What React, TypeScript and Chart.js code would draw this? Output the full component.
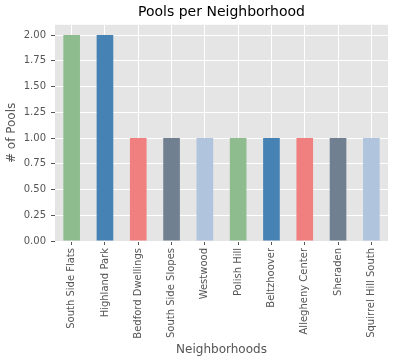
import React, { useEffect, useRef } from "react";
import { Chart, registerables } from "chart.js";

Chart.register(...registerables);

const neighborhoods = [
  "South Side Flats",
  "Highland Park",
  "Bedford Dwellings",
  "South Side Slopes",
  "Westwood",
  "Polish Hill",
  "Beltzhoover",
  "Allegheny Center",
  "Sheraden",
  "Squirrel Hill South",
];
const pools = [2, 2, 1, 1, 1, 1, 1, 1, 1, 1];
const palette = ["#8FBC8F", "#4682B4", "#F08080", "#708090", "#B0C4DE"];
const yTicks = [0, 0.25, 0.5, 0.75, 1.0, 1.25, 1.5, 1.75, 2.0];

const FONT = "'DejaVu Sans', sans-serif";

const bgPlugin = {
  id: "bgPlugin",
  beforeDraw(chart: any) {
    const { ctx, chartArea } = chart;
    ctx.save();
    ctx.fillStyle = "#E5E5E5";
    ctx.fillRect(chartArea.left, chartArea.top, chartArea.right - chartArea.left, chartArea.bottom - chartArea.top);
    ctx.restore();
  },
};

export default function App() {
  const ref = useRef<HTMLCanvasElement | null>(null);
  useEffect(() => {
    document.body.style.margin = "0";
    const chart = new Chart(ref.current!, {
      type: "bar",
      data: {
        labels: neighborhoods,
        datasets: [
          {
            data: pools,
            backgroundColor: neighborhoods.map((_, i) => palette[i % palette.length]),
            barPercentage: 0.5,
            categoryPercentage: 1,
          },
        ],
      },
      options: {
        animation: false,
        responsive: false,
        layout: { padding: { left: 0, right: 7, top: 0, bottom: 0 } },
        plugins: {
          legend: { display: false },
          tooltip: { enabled: false },
          title: {
            display: true,
            text: "Pools per Neighborhood",
            color: "#000",
            font: { family: FONT, size: 14, weight: "normal" },
            padding: { top: 4, bottom: 4 },
            fullSize: false,
          },
        },
        scales: {
          x: {
            grid: { color: "#FFFFFF", offset: false, tickColor: "#555555", tickLength: 4, lineWidth: 1 },
            border: { display: false },
            ticks: {
              color: "#555555",
              font: { family: FONT, size: 10 },
              minRotation: 90,
              maxRotation: 90,
              padding: 3,
              autoSkip: false,
            },
            title: {
              display: true,
              text: "Neighborhoods",
              color: "#555555",
              font: { family: FONT, size: 12 },
              padding: { top: 4, bottom: 6 },
            },
            afterFit(scale: any) {
              scale.height = 122;
            },
          },
          y: {
            min: 0,
            max: 2.1,
            afterBuildTicks(scale: any) {
              scale.ticks = yTicks.map((v) => ({ value: v }));
            },
            grid: { color: "#FFFFFF", tickColor: "#555555", tickLength: 4, lineWidth: 1 },
            border: { display: false },
            ticks: {
              color: "#555555",
              font: { family: FONT, size: 10 },
              padding: 5,
              callback: (v: any) => Number(v).toFixed(2),
            },
            title: {
              display: true,
              text: "# of Pools",
              color: "#555555",
              font: { family: FONT, size: 12 },
              padding: { top: 5, bottom: 4 },
            },
            afterFit(scale: any) {
              scale.width = 55;
            },
          },
        },
      },
      plugins: [bgPlugin],
    });
    return () => chart.destroy();
  }, []);
  return (
    <div style={{ width: 395, height: 363, background: "#fff" }}>
      <canvas ref={ref} width={395} height={363} style={{ display: "block" }} />
    </div>
  );
}
